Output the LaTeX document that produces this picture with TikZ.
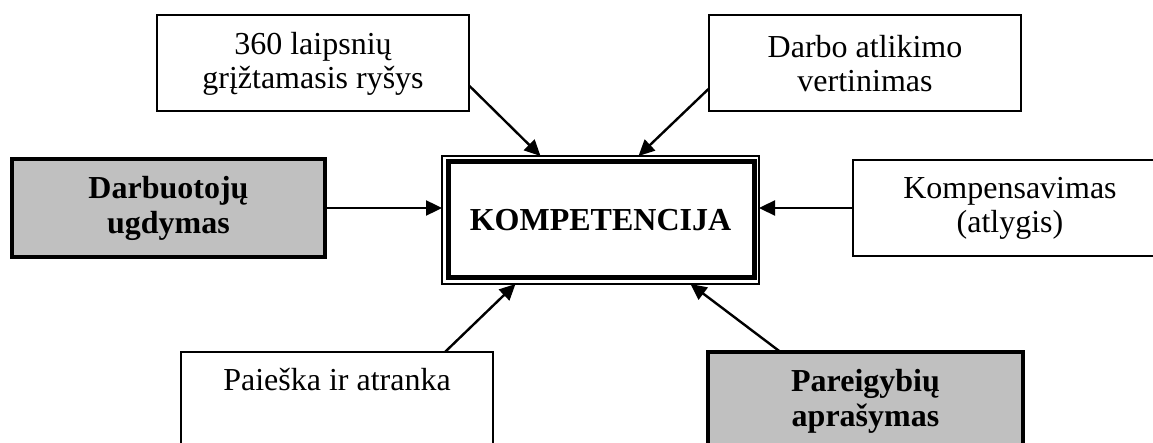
\documentclass[tikz,border=0pt]{standalone}
\usepackage{fontspec}
\setmainfont{Liberation Serif}
\usetikzlibrary{arrows.meta,positioning}
\definecolor{boxgray}{RGB}{192,192,192}
\tikzset{
  plainbox/.style={draw, rectangle, line width=2pt, minimum width=312pt, minimum height=96pt, inner sep=0pt, outer sep=0pt, align=center, font=\fontsize{32}{34}\selectfont},
  graybox/.style={plainbox, fill=boxgray, line width=4pt, font=\fontsize{32}{35}\selectfont\bfseries},
  link/.style={->, line width=2.4pt}
}

\begin{document}
\begin{tikzpicture}[x=1pt, y=-1pt, >={Triangle[length=16pt,width=15pt]}]
\useasboundingbox (0,0) rectangle (1153,443);
\clip (0,0) rectangle (1153,443);

\node[draw, rectangle, line width=1.8pt, minimum width=317pt, minimum height=128pt, inner sep=0pt, outer sep=0pt, font=\fontsize{32}{34}\selectfont\bfseries] (komp) at (600.5,220) {KOMPETENCIJA};
\draw[line width=5pt] ([shift={(6pt,-6pt)}]komp.north west) rectangle ([shift={(-5pt,6pt)}]komp.south east);

\node[plainbox] (grizt) at (313,63.5) {360 laipsnių\\grįžtamasis ryšys};
\node[plainbox, right=240pt of grizt] (vert) {Darbo atlikimo\\vertinimas};
\node[graybox, minimum width=313pt, minimum height=98pt] (ugd) at (168.5,208) {Darbuotojų\\ugdymas};
\node[plainbox, minimum width=314pt, right=528pt of ugd] (komps) {Kompensavimas\\(atlygis)};
\node[plainbox, minimum height=98pt] (atr) at (337,401) {Paieška ir atranka\\\strut};
\node[graybox, minimum width=315pt, minimum height=98pt, right=215pt of atr] (apr) {Pareigybių\\aprašymas};

\draw[link] ([yshift=-22pt]grizt.east) -- ([xshift=-60pt]komp.north);
\draw[link] ([yshift=-25pt]vert.west) -- ([xshift=38pt]komp.north);
\draw[link] (ugd.east) -- (ugd.east -| komp.west);
\draw[link] (komps.west) -- (komps.west -| komp.east);
\draw[link] ([xshift=108pt]atr.north) -- ([xshift=-85pt]komp.south);
\draw[link] ([xshift=-85pt]apr.north) -- ([xshift=90pt]komp.south);

\end{tikzpicture}
\end{document}
